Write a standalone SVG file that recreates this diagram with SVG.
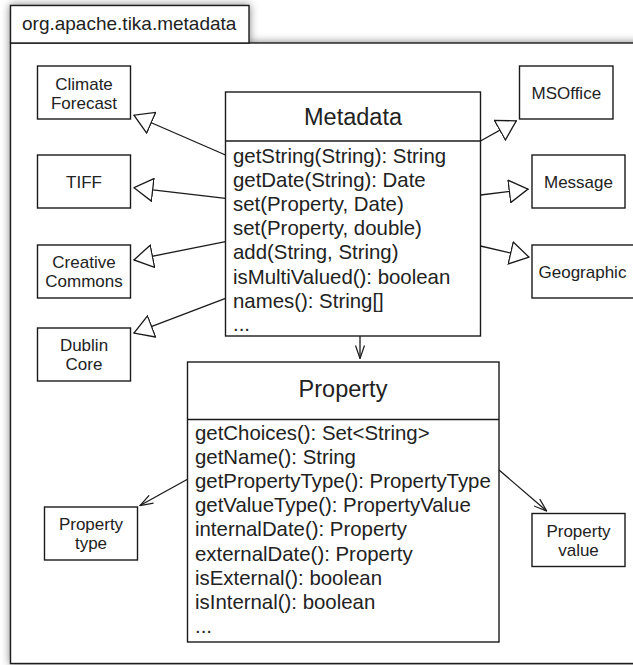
<svg xmlns="http://www.w3.org/2000/svg" width="633" height="665" viewBox="0 0 633 665">
<defs>
<filter id="shadow" x="-10%" y="-10%" width="120%" height="120%">
<feDropShadow dx="0" dy="0" stdDeviation="4" flood-color="#000" flood-opacity="0.5"/>
</filter>
<marker id="inherit" viewBox="0 0 20 24" refX="20" refY="12" markerWidth="20" markerHeight="24" markerUnits="userSpaceOnUse" orient="auto">
<path d="M0.7,0.7 L19.5,12 L0.7,23.3 Z" fill="#fff" stroke="#1a1a1a" stroke-width="1.3"/>
</marker>
<marker id="open" viewBox="0 0 14 10" refX="13.5" refY="5" markerWidth="14" markerHeight="10" markerUnits="userSpaceOnUse" orient="auto">
<path d="M0.5,0.5 L13.5,5 L0.5,9.5" fill="none" stroke="#1a1a1a" stroke-width="1.2"/>
</marker>
</defs>
<style>
.box{fill:#fff;stroke:#1a1a1a;stroke-width:1.4}
.div{stroke:#1a1a1a;stroke-width:1.4}
.t{font-family:"Liberation Sans",Arial,sans-serif;fill:#222}
.pkg{font-size:19px}
.small{font-size:17px;text-anchor:middle}
.title{font-size:23.5px;text-anchor:middle}
.attr{font-size:20.4px}
.conn{stroke:#1a1a1a;stroke-width:1.3;fill:none}
</style>
<rect width="633" height="665" fill="#fff"/>
<g id="package">
<g filter="url(#shadow)">
<rect class="box" x="10.5" y="43" width="640" height="620.5"/>
<rect class="box" x="10.5" y="5.5" width="238.5" height="37.5"/>
</g>
<text class="t pkg" x="22" y="30">org.apache.tika.metadata</text>
</g>
<g id="connectors">
<line class="conn" x1="225.5" y1="155" x2="133.5" y2="115" marker-end="url(#inherit)"/>
<line class="conn" x1="225.5" y1="198.3" x2="133.5" y2="187.7" marker-end="url(#inherit)"/>
<line class="conn" x1="225.5" y1="241.7" x2="133.5" y2="260" marker-end="url(#inherit)"/>
<line class="conn" x1="225.5" y1="298.3" x2="133.5" y2="333.3" marker-end="url(#inherit)"/>
<line class="conn" x1="480.5" y1="141" x2="516.7" y2="120.7" marker-end="url(#inherit)"/>
<line class="conn" x1="480.5" y1="195" x2="528.5" y2="189" marker-end="url(#inherit)"/>
<line class="conn" x1="480.5" y1="246" x2="529.5" y2="257.3" marker-end="url(#inherit)"/>
<line class="conn" x1="360" y1="336" x2="360" y2="358.5" marker-end="url(#open)"/>
<line class="conn" x1="187.5" y1="479.3" x2="140" y2="505.5" marker-end="url(#open)"/>
<line class="conn" x1="499" y1="470" x2="546.7" y2="511" marker-end="url(#open)"/>
</g>
<g id="climate-forecast">
<rect class="box" x="37.5" y="66" width="93" height="53"/>
<text class="t small" x="84" y="89.5">Climate</text>
<text class="t small" x="84" y="108.5">Forecast</text>
</g>
<g id="tiff">
<rect class="box" x="37.5" y="155" width="93" height="53"/>
<text class="t small" x="84" y="187.5">TIFF</text>
</g>
<g id="creative-commons">
<rect class="box" x="37.5" y="245" width="93" height="53"/>
<text class="t small" x="84" y="267.5">Creative</text>
<text class="t small" x="84" y="286.5">Commons</text>
</g>
<g id="dublin-core">
<rect class="box" x="37.5" y="328" width="93" height="53"/>
<text class="t small" x="84" y="351">Dublin</text>
<text class="t small" x="84" y="370">Core</text>
</g>
<g id="msoffice">
<rect class="box" x="519.5" y="66" width="93.5" height="53"/>
<text class="t small" x="566.3" y="98.5">MSOffice</text>
</g>
<g id="message">
<rect class="box" x="532" y="155" width="93" height="53"/>
<text class="t small" x="578.5" y="188">Message</text>
</g>
<g id="geographic">
<rect class="box" x="532" y="245" width="110" height="53"/>
<text class="t" style="font-size:17px" x="538.5" y="277.7">Geographic</text>
</g>
<g id="metadata">
<rect class="box" x="225.5" y="92" width="255" height="244"/>
<line class="div" x1="225.5" y1="141" x2="480.5" y2="141"/>
<text class="t title" x="353" y="124.5">Metadata</text>
<text class="t attr" x="233" y="162.5">getString(String): String</text>
<text class="t attr" x="233" y="186.7">getDate(String): Date</text>
<text class="t attr" x="233" y="210.9">set(Property, Date)</text>
<text class="t attr" x="233" y="235.1">set(Property, double)</text>
<text class="t attr" x="233" y="259.3">add(String, String)</text>
<text class="t attr" x="233" y="283.5">isMultiValued(): boolean</text>
<text class="t attr" x="233" y="307.7">names(): String[]</text>
<text class="t attr" x="233" y="331">...</text>
</g>
<g id="property">
<rect class="box" x="187.5" y="362" width="311.5" height="280"/>
<line class="div" x1="187.5" y1="419.5" x2="499" y2="419.5"/>
<text class="t title" x="343" y="396.5">Property</text>
<text class="t attr" x="195" y="439.5">getChoices(): Set&lt;String&gt;</text>
<text class="t attr" x="195" y="463.7">getName(): String</text>
<text class="t attr" x="195" y="487.9">getPropertyType(): PropertyType</text>
<text class="t attr" x="195" y="512.1">getValueType(): PropertyValue</text>
<text class="t attr" x="195" y="536.3">internalDate(): Property</text>
<text class="t attr" x="195" y="560.5">externalDate(): Property</text>
<text class="t attr" x="195" y="584.7">isExternal(): boolean</text>
<text class="t attr" x="195" y="608.9">isInternal(): boolean</text>
<text class="t attr" x="195" y="632.5">...</text>
</g>
<g id="property-type">
<rect class="box" x="44.5" y="507" width="93" height="53"/>
<text class="t small" x="91" y="530">Property</text>
<text class="t small" x="91" y="548.5">type</text>
</g>
<g id="property-value">
<rect class="box" x="532" y="513.5" width="93" height="53"/>
<text class="t small" x="578.5" y="537.3">Property</text>
<text class="t small" x="578.5" y="555.7">value</text>
</g>
</svg>
